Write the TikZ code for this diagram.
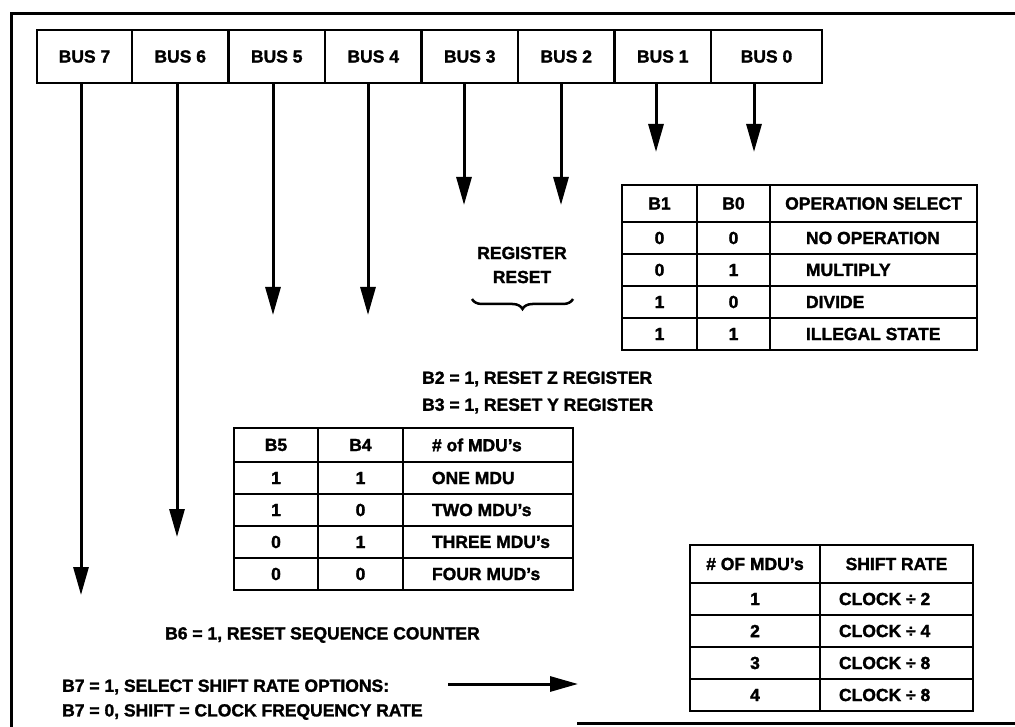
\documentclass[tikz,border=0pt]{standalone}
\usepackage{fontspec}
\setmainfont{Liberation Sans}[BoldFeatures={FakeBold=1.6}]
\usepackage{tikz}
\usetikzlibrary{arrows.meta,positioning,decorations.pathreplacing}

\newcommand{\lpad}[3]{\makebox[#1][l]{\hspace*{#2}#3}}

\begin{document}
\begin{tikzpicture}[
  x=1pt, y=1pt,
  node distance=0pt,
  font=\bfseries\fontsize{17.5}{24}\selectfont,
  frame/.style={line width=3pt},
  bus/.style={draw, line width=2.5pt, minimum width=96.5pt, minimum height=53pt,
              inner sep=0pt, outer sep=0pt},
  cell/.style={draw, line width=2.8pt, inner sep=0pt, outer sep=0pt},
  ophead/.style={cell, minimum height=37pt},
  oprow/.style={cell, minimum height=32pt},
  oc1/.style={minimum width=75pt}, oc2/.style={minimum width=73pt},
  oc3/.style={minimum width=207pt},
  mdhead/.style={cell, minimum height=34pt},
  mdrow/.style={cell, minimum height=32pt},
  mc1/.style={minimum width=84pt}, mc2/.style={minimum width=85pt},
  mc3/.style={minimum width=170pt},
  shhead/.style={cell, minimum height=38pt},
  shrow/.style={cell, minimum height=32pt},
  sc1/.style={minimum width=130pt}, sc2/.style={minimum width=153pt},
  note/.style={inner sep=0pt, anchor=west},
  ar/.style={-{Triangle[length=28pt, width=15pt]}, line width=3pt}
]
  \useasboundingbox (0,0) rectangle (1015,-727);
  \draw[frame] (1015,-14) -| (11,-727);
  \draw[frame] (577,-723) -- (1015,-723);

  \node[bus, anchor=north west, minimum width=95pt] (bus7) at (37,-30) {BUS 7};
  \node[bus, right=of bus7] (bus6) {BUS 6};
  \node[bus, right=of bus6] (bus5) {BUS 5};
  \node[bus, right=of bus5] (bus4) {BUS 4};
  \node[bus, right=of bus4] (bus3) {BUS 3};
  \node[bus, right=of bus3] (bus2) {BUS 2};
  \node[bus, right=of bus2] (bus1) {BUS 1};
  \node[bus, right=of bus1, minimum width=111pt] (bus0) {BUS 0};

  \coordinate (t7) at (81,-595);
  \coordinate (t6) at (177,-537);
  \coordinate (t5) at (273,-315);
  \coordinate (t4) at (368,-315);
  \coordinate (t3) at (464,-205);
  \coordinate (t2) at (561,-205);
  \coordinate (t1) at (656,-152);
  \coordinate (t0) at (754,-152);
  \draw[ar] (t7 |- bus7.south) -- (t7);
  \draw[ar] (t6 |- bus6.south) -- (t6);
  \draw[ar] (t5 |- bus5.south) -- (t5);
  \draw[ar] (t4 |- bus4.south) -- (t4);
  \draw[ar] (t3 |- bus3.south) -- (t3);
  \draw[ar] (t2 |- bus2.south) -- (t2);
  \draw[ar] (t1 |- bus1.south) -- (t1);
  \draw[ar] (t0 |- bus0.south) -- (t0);

  \node[ophead, oc1, anchor=north west] (oh1) at (622,-185) {B1};
  \node[ophead, oc2, right=of oh1] (oh2) {B0};
  \node[ophead, oc3, right=of oh2] (oh3) {OPERATION SELECT};
  \node[oprow, oc1, below=of oh1] (o11) {0};
  \node[oprow, oc2, right=of o11] (o12) {0};
  \node[oprow, right=of o12] (o13) {\lpad{207pt}{36pt}{NO OPERATION}};
  \node[oprow, oc1, below=of o11] (o21) {0};
  \node[oprow, oc2, right=of o21] (o22) {1};
  \node[oprow, right=of o22] (o23) {\lpad{207pt}{36pt}{MULTIPLY}};
  \node[oprow, oc1, below=of o21] (o31) {1};
  \node[oprow, oc2, right=of o31] (o32) {0};
  \node[oprow, right=of o32] (o33) {\lpad{207pt}{36pt}{DIVIDE}};
  \node[oprow, oc1, below=of o31] (o41) {1};
  \node[oprow, oc2, right=of o41] (o42) {1};
  \node[oprow, right=of o42] (o43) {\lpad{207pt}{36pt}{ILLEGAL STATE}};

  \node[align=center] (regreset) at (522,-265) {REGISTER\\RESET};
  \coordinate (brl) at (472,-299);
  \coordinate (brr) at (573,-299);
  \draw[decorate, decoration={brace, mirror, amplitude=10pt}, line width=2.5pt]
    (brl) -- (brr);

  \node[note] (b2txt) at (422,-379) {B2 = 1, RESET Z REGISTER};
  \node[note] (b3txt) at (422,-406) {B3 = 1, RESET Y REGISTER};

  \node[mdhead, mc1, anchor=north west] (mh1) at (234,-428) {B5};
  \node[mdhead, mc2, right=of mh1] (mh2) {B4};
  \node[mdhead, right=of mh2] (mh3) {\lpad{170pt}{29pt}{\# of MDU's}};
  \node[mdrow, mc1, below=of mh1] (m11) {1};
  \node[mdrow, mc2, right=of m11] (m12) {1};
  \node[mdrow, right=of m12] (m13) {\lpad{170pt}{29pt}{ONE MDU}};
  \node[mdrow, mc1, below=of m11] (m21) {1};
  \node[mdrow, mc2, right=of m21] (m22) {0};
  \node[mdrow, right=of m22] (m23) {\lpad{170pt}{29pt}{TWO MDU's}};
  \node[mdrow, mc1, below=of m21] (m31) {0};
  \node[mdrow, mc2, right=of m31] (m32) {1};
  \node[mdrow, right=of m32] (m33) {\lpad{170pt}{29pt}{THREE MDU's}};
  \node[mdrow, mc1, below=of m31] (m41) {0};
  \node[mdrow, mc2, right=of m41] (m42) {0};
  \node[mdrow, right=of m42] (m43) {\lpad{170pt}{29pt}{FOUR MUD's}};

  \node[shhead, sc1, anchor=north west] (sh1) at (690,-545) {\# OF MDU's};
  \node[shhead, sc2, right=of sh1] (sh2) {SHIFT RATE};
  \node[shrow, sc1, below=of sh1] (s11) {1};
  \node[shrow, right=of s11] (s12) {\lpad{153pt}{19pt}{CLOCK ÷ 2}};
  \node[shrow, sc1, below=of s11] (s21) {2};
  \node[shrow, right=of s21] (s22) {\lpad{153pt}{19pt}{CLOCK ÷ 4}};
  \node[shrow, sc1, below=of s21] (s31) {3};
  \node[shrow, right=of s31] (s32) {\lpad{153pt}{19pt}{CLOCK ÷ 8}};
  \node[shrow, sc1, below=of s31] (s41) {4};
  \node[shrow, right=of s41] (s42) {\lpad{153pt}{19pt}{CLOCK ÷ 8}};

  \node[note] (b6txt) at (165,-635) {B6 = 1, RESET SEQUENCE COUNTER};
  \node[note] (b7on) at (62,-687) {B7 = 1, SELECT SHIFT RATE OPTIONS:};
  \node[note] (b7off) at (62,-712) {B7 = 0, SHIFT = CLOCK FREQUENCY RATE};
  \coordinate (sa) at (448,-684);
  \coordinate (sb) at (578,-684);
  \draw[ar] (sa) -- (sb);
\end{tikzpicture}
\end{document}
